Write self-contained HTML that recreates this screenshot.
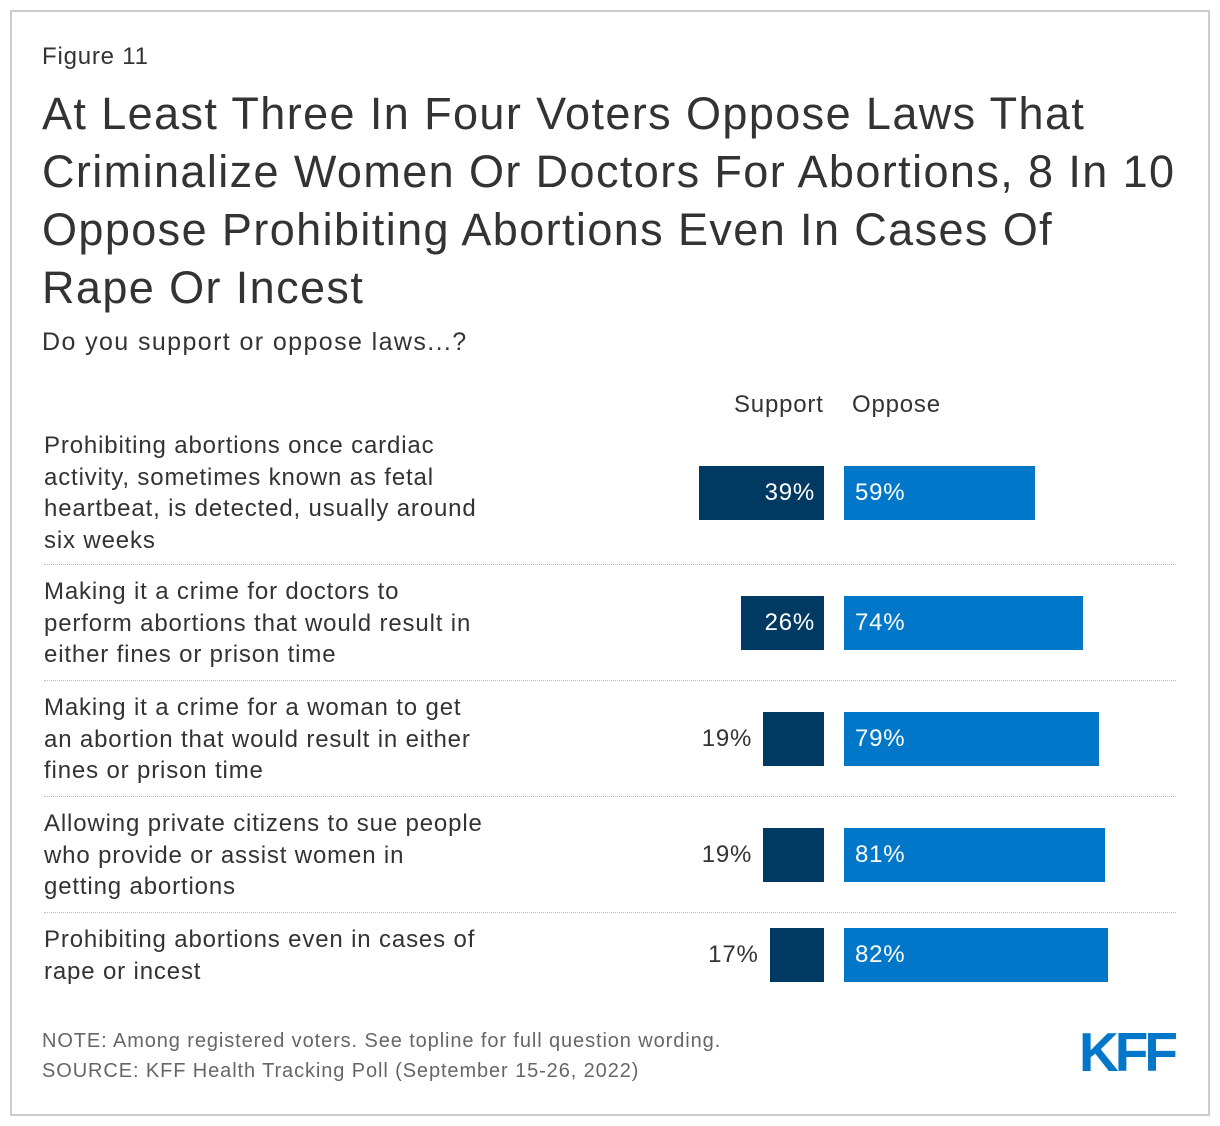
<!DOCTYPE html>
<html><head><meta charset="utf-8"><style>
body{margin:0;width:1220px;height:1126px;background:#fff;font-family:"Liberation Sans",sans-serif;color:#333;position:relative;overflow:hidden}
#frame{position:absolute;left:10px;top:10px;width:1196px;height:1102px;border:2px solid #ccc}
.t{position:absolute;white-space:nowrap}
.lab{position:absolute;left:44px;font-size:24px;line-height:31.5px;color:#333;letter-spacing:0.85px;white-space:nowrap}
.sep{position:absolute;left:44px;width:1132px;border-top:1px dotted #bbb;height:0}
</style></head><body>
<div id="frame"></div>
<div class="t" style="left:42px;top:43px;font-size:24px;letter-spacing:0.8px">Figure 11</div>
<div class="t" style="left:42px;top:85px;font-size:45px;line-height:58px;letter-spacing:1.4px">At Least Three In Four Voters Oppose Laws That<br>Criminalize Women Or Doctors For Abortions, 8 In 10<br>Oppose Prohibiting Abortions Even In Cases Of<br>Rape Or Incest</div>
<div class="t" style="left:42px;top:328px;font-size:25px;letter-spacing:1.4px">Do you support or oppose laws...?</div>
<div class="t" style="left:734px;top:391px;font-size:24px;letter-spacing:0.8px">Support</div>
<div class="t" style="left:852px;top:391px;font-size:24px;letter-spacing:0.8px">Oppose</div>
<div id="chart"></div>
<div class="t" style="left:42px;top:1026px;font-size:20px;color:#666;line-height:30px;letter-spacing:0.9px">NOTE: Among registered voters. See topline for full question wording.<br>SOURCE: KFF Health Tracking Poll (September 15-26, 2022)</div>
<div class="t" style="left:1079px;top:1020px;font-size:55px;font-weight:bold;color:#0077c8;letter-spacing:-4px">KFF</div>
<script>
const categories=["Prohibiting abortions once cardiac<br>activity, sometimes known as fetal<br>heartbeat, is detected, usually around<br>six weeks","Making it a crime for doctors to<br>perform abortions that would result in<br>either fines or prison time","Making it a crime for a woman to get<br>an abortion that would result in either<br>fines or prison time","Allowing private citizens to sue people<br>who provide or assist women in<br>getting abortions","Prohibiting abortions even in cases of<br>rape or incest"];
const support=[39,26,19,19,17];
const oppose=[59,74,79,81,82];
const barTops=[466,596,712,828,928];
const labelTops=[430,576,692,808,924];
const sepYs=[564,680,796,912];
const scale=3.2, mid1=824, mid2=844, bh=54;
const c=document.getElementById('chart');
function mk(tag,css,html){const e=document.createElement(tag);e.style.cssText=css;if(html!==undefined)e.innerHTML=html;c.appendChild(e);return e;}
categories.forEach((cat,i)=>{
  const l=mk('div','top:'+labelTops[i]+'px','');l.className='lab';l.innerHTML=cat;
  
  
  const sw=support[i]*scale, ow=oppose[i]*scale+2, y=barTops[i];
  const sb=mk('div','position:absolute;background:#003a63;left:'+(mid1-sw)+'px;top:'+y+'px;width:'+sw+'px;height:'+bh+'px');
  
  
  const inside=sw>70;
  const sl=mk('div','position:absolute;font-size:24px;letter-spacing:0.8px;top:'+(y+13)+'px;white-space:nowrap;'+(inside?'color:#fff;right:'+(1220-mid1+9)+'px':'color:#333;right:'+(1220-(mid1-sw)+11)+'px'),support[i]+'%');
  
  
  const ob=mk('div','position:absolute;background:#0077c8;left:'+mid2+'px;top:'+y+'px;width:'+ow+'px;height:'+bh+'px');
  
  
  const ol=mk('div','position:absolute;font-size:24px;letter-spacing:0.8px;color:#fff;top:'+(y+13)+'px;left:'+(mid2+11)+'px',oppose[i]+'%');
  
  
});
sepYs.forEach(y=>{const s=mk('div','top:'+y+'px');s.className='sep';
  
  });
</script>
</body></html>
